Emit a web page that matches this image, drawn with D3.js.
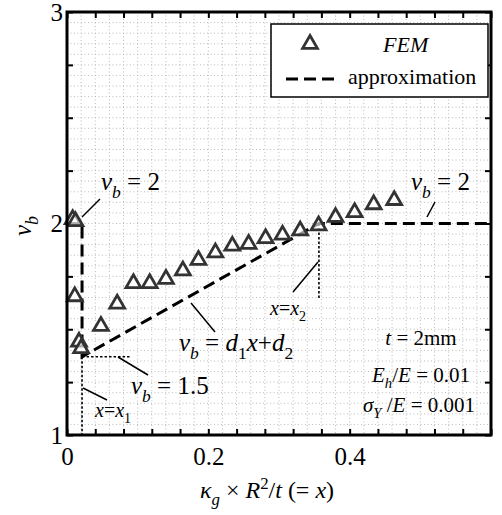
<!DOCTYPE html>
<html>
<head>
<meta charset="utf-8">
<script src="https://cdn.jsdelivr.net/npm/d3@7"></script>
<style>
  html, body { margin: 0; padding: 0; background: #fff; }
  svg text { font-family: "Liberation Serif", "Times New Roman", serif; fill: #000; }
</style>
</head>
<body>
<svg id="chart" width="502" height="515"></svg>
<script>
// FEM results: curvature parameter x = kappa_g * R^2 / t and buckling parameter v_b
const femX = [0.008, 0.012, 0.011, 0.017, 0.020, 0.048, 0.071, 0.094, 0.117, 0.140, 0.164,
              0.186, 0.210, 0.234, 0.257, 0.281, 0.305, 0.330, 0.356, 0.380, 0.407, 0.434, 0.463];
const femY = [2.02, 2.01, 1.655, 1.44, 1.41, 1.515, 1.62, 1.717, 1.717, 1.737, 1.777,
              1.827, 1.862, 1.894, 1.903, 1.930, 1.946, 1.966, 1.990, 2.030, 2.053, 2.090, 2.110];

// Piecewise approximation: v_b = 2, drop at x1, linear rise to x2, then v_b = 2
const approxX = [0, 0.0213, 0.0213, 0.3565, 0.6];
const approxY = [2, 2, 1.37, 2, 2];

// Guide positions
const x1 = 0.0213, x2 = 0.3565, yKnee = 1.37;

const xTicksMajor = [0, 0.2, 0.4];
const yTicksMajor = [1, 2, 3];

const svg = d3.select("#chart");
const m = { left: 67, top: 12, right: 491, bottom: 435 };
const x = d3.scaleLinear().domain([0, 0.6]).range([m.left, m.right]);
const y = d3.scaleLinear().domain([1, 3]).range([m.bottom, m.top]);

// dotted grid
const grid = svg.append("g");
grid.selectAll("line.gx").data(d3.range(1, 30).map(i => i * 0.02)).join("line")
  .attr("x1", d => x(d)).attr("x2", d => x(d)).attr("y1", m.top).attr("y2", m.bottom)
  .attr("stroke", "#aaa").attr("stroke-width", 0.8).attr("stroke-dasharray", "1,2.5");
grid.selectAll("line.gy").data(d3.range(1, 40).map(i => 1 + i * 0.05)).join("line")
  .attr("x1", m.left).attr("x2", m.right).attr("y1", d => y(d)).attr("y2", d => y(d))
  .attr("stroke", "#aaa").attr("stroke-width", 0.8).attr("stroke-dasharray", "1,2.5");

// inward ticks on all four sides
const xt = d3.range(0, 16).map(i => i * 0.04);
const yt = d3.range(0, 9).map(i => 1 + i * 0.25);
function tickAxis(axis, tr) {
  const g = svg.append("g").attr("transform", tr).call(axis);
  g.select(".domain").remove();
  g.selectAll(".tick line").attr("stroke", "#000").attr("stroke-width", 2);
  g.selectAll(".tick text").remove();
}
tickAxis(d3.axisBottom(x).tickValues(xt).tickSize(-6), `translate(0,${m.bottom})`);
tickAxis(d3.axisTop(x).tickValues(xt).tickSize(-6), `translate(0,${m.top})`);
tickAxis(d3.axisLeft(y).tickValues(yt).tickSize(-6), `translate(${m.left},0)`);
tickAxis(d3.axisRight(y).tickValues(yt).tickSize(-6), `translate(${m.right},0)`);

// tick labels
svg.append("g").attr("transform", `translate(0,${m.bottom})`)
  .call(d3.axisBottom(x).tickValues(xTicksMajor).tickSize(0).tickPadding(12).tickFormat(d => d === 0 ? "0" : d3.format(".1f")(d)))
  .call(g => g.select(".domain").remove())
  .selectAll("text").attr("font-size", 25).attr("font-family", "Liberation Serif").attr("fill", "#000");
svg.append("g").attr("transform", `translate(${m.left},0)`)
  .call(d3.axisLeft(y).tickValues(yTicksMajor).tickSize(0).tickPadding(4).tickFormat(d3.format("d")))
  .call(g => g.select(".domain").remove())
  .selectAll("text").attr("font-size", 25).attr("font-family", "Liberation Serif").attr("fill", "#000");

// guide lines (dotted)
const dotted = { stroke: "#000", "stroke-width": 1.6, "stroke-dasharray": "2.5,2" };
function guide(xa, ya, xb, yb) {
  const l = svg.append("line").attr("x1", x(xa)).attr("y1", y(ya)).attr("x2", x(xb)).attr("y2", y(yb));
  Object.entries(dotted).forEach(([k, v]) => l.attr(k, v));
}
guide(x1, yKnee, x1, 1);
guide(x1, yKnee, 0.09, yKnee);
guide(x2, 2, x2, 1.64);

// approximation line
const line = d3.line().x((d, i) => x(approxX[i])).y((d, i) => y(approxY[i]));
svg.append("path").attr("d", line(approxX))
  .attr("fill", "none").attr("stroke", "#000").attr("stroke-width", 3)
  .attr("stroke-dasharray", "12,6");

// FEM triangles
const tri = d3.symbol().type(d3.symbolTriangle).size(95);
svg.append("g").selectAll("path").data(femX).join("path")
  .attr("d", tri)
  .attr("transform", (d, i) => `translate(${x(d)},${y(femY[i])})`)
  .attr("fill", "#fff").attr("fill-opacity", 0.6)
  .attr("stroke", "#333").attr("stroke-width", 2.8);

// frame
svg.append("rect").attr("x", m.left).attr("y", m.top)
  .attr("width", m.right - m.left).attr("height", m.bottom - m.top)
  .attr("fill", "none").attr("stroke", "#000").attr("stroke-width", 3);

// rich text helper: parts = [text, style] where style: i = italic, sub, sup
function rich(px, py, size, parts, anchor) {
  const t = svg.append("text").attr("x", px).attr("y", py).attr("font-size", size)
    .attr("text-anchor", anchor || "start");
  let shift = 0;
  parts.forEach(([s, st]) => {
    const sp = t.append("tspan").text(s);
    let target = 0;
    if (st && st.includes("sub")) target = size * 0.3;
    if (st && st.includes("sup")) target = -size * 0.38;
    sp.attr("dy", target - shift);
    shift = target;
    if (st && (st.includes("sub") || st.includes("sup"))) sp.attr("font-size", size * 0.7);
    if (st && st.includes("i")) sp.attr("font-style", "italic");
  });
  return t;
}
function leader(xa, ya, xb, yb) {
  svg.append("line").attr("x1", xa).attr("y1", ya).attr("x2", xb).attr("y2", yb)
    .attr("stroke", "#000").attr("stroke-width", 1.5);
}

// annotations
rich(101, 190, 25, [["v", "i"], ["b", "i sub"], [" = 2", ""]]);
leader(100, 199, 82, 217);
rich(411, 190, 25, [["v", "i"], ["b", "i sub"], [" = 2", ""]]);
leader(435, 202, 427, 217);
rich(179, 351, 25, [["v", "i"], ["b", "i sub"], [" = ", ""], ["d", "i"], ["1", "sub"], ["x", "i"], ["+", ""], ["d", "i"], ["2", "sub"]]);
leader(191, 303, 215, 332);
rich(131, 394, 25, [["v", "i"], ["b", "i sub"], [" = 1.5", ""]]);
leader(118, 357, 148, 375);
rich(95, 417, 20, [["x", "i"], ["=", ""], ["x", "i"], ["1", "sub"]]);
leader(83, 388, 107, 400);
rich(270, 315, 20, [["x", "i"], ["=", ""], ["x", "i"], ["2", "sub"]]);
leader(318, 262, 293, 292);

rich(421, 345, 21, [["t", "i"], [" = 2mm", ""]], "middle");
rich(421, 382, 21, [["E", "i"], ["h", "i sub"], ["/", ""], ["E", "i"], [" = 0.01", ""]], "middle");
rich(419, 412, 21, [["σ", "i"], ["Y", "i sub"], [" /", ""], ["E", "i"], [" = 0.001", ""]], "middle");

// legend
svg.append("rect").attr("x", 271).attr("y", 24).attr("width", 217).attr("height", 73)
  .attr("fill", "#fff").attr("stroke", "#000").attr("stroke-width", 1.5);
svg.append("path").attr("d", tri).attr("transform", "translate(310,44)")
  .attr("fill", "#fff").attr("stroke", "#333").attr("stroke-width", 2.8);
svg.append("text").attr("x", 383).attr("y", 52).attr("font-size", 22).attr("font-style", "italic").text("FEM");
svg.append("line").attr("x1", 286).attr("x2", 337).attr("y1", 79).attr("y2", 79)
  .attr("stroke", "#000").attr("stroke-width", 3).attr("stroke-dasharray", "12,6");
svg.append("text").attr("x", 348).attr("y", 84).attr("font-size", 22).text("approximation");

// axis titles
rich(200, 498, 24, [["κ", "i"], ["g", "i sub"], [" × ", ""], ["R", "i"], ["2", "sup"], ["/", ""], ["t", "i"], [" (= ", ""], ["x", "i"], [")", ""]]);
const yl = svg.append("g").attr("transform", "translate(31,226) rotate(-90)");
const ylt = yl.append("text").attr("font-size", 25).attr("text-anchor", "middle");
ylt.append("tspan").attr("font-style", "italic").text("v");
ylt.append("tspan").attr("font-style", "italic").attr("font-size", 18).attr("dy", 7).text("b");
</script>
</body>
</html>
